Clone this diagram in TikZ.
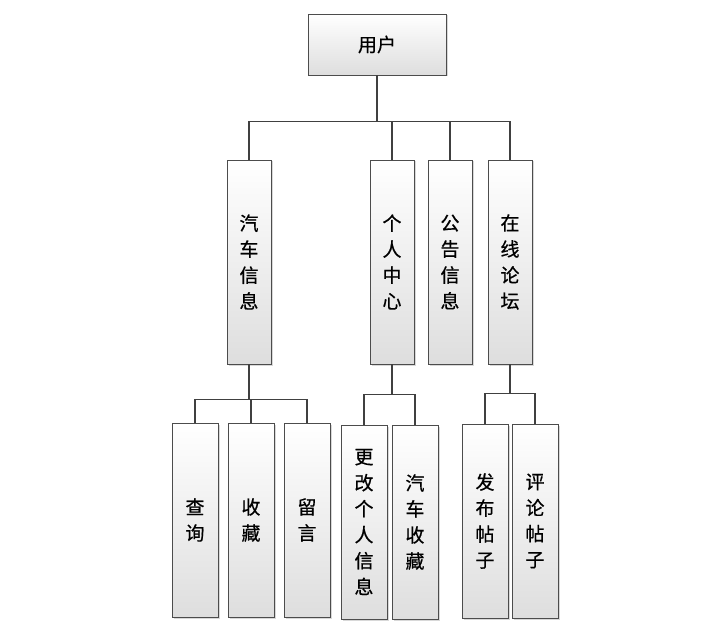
\documentclass[tikz,border=0pt]{standalone}
\usepackage{fontspec}
\newfontfamily\cjk[FakeBold=0.6]{Noto Sans CJK SC}
\usetikzlibrary{positioning,shadows}

\begin{document}
\begin{tikzpicture}[x=1pt, y=-1pt,
  box/.style={draw=black!70, line width=0.9pt,
              top color=white, bottom color=black!13,
              drop shadow={shadow xshift=1.5pt, shadow yshift=-1.5pt,
                           fill=black!30, opacity=0.5},
              align=center, inner sep=0pt,
              font=\cjk\fontsize{19}{26}\selectfont},
  rootbox/.style={box, minimum width=138pt, minimum height=61pt},
  modbox/.style={box, minimum width=44pt, minimum height=204pt},
  leafbox/.style={box, minimum width=46pt, minimum height=194pt},
  conn/.style={draw=black!75, line width=1.5pt}
]
\useasboundingbox (0,0) rectangle (707,639);

%% ── nodes ───────────────────────────────────────────────────────────────
\node[rootbox] (user)   at (377,44.5) {用户};

% modules
\node[modbox]  (car)    at (249,262)  {汽\\车\\信\\息};
\node[modbox]  (self)   at (392,262)  {个\\人\\中\\心};
\node[modbox]  (notice) at (450,262)  {公\\告\\信\\息};
\node[modbox]  (forum)  at (510,262)  {在\\线\\论\\坛};

% functions
\node[leafbox] (query)  at (195,520)  {查\\询};
\node[leafbox] (fav)    at (251,520)  {收\\藏};
\node[leafbox] (msg)    at (307,520)  {留\\言};
\node[leafbox] (edit)   at (364,522)  {更\\改\\个\\人\\信\\息};
\node[leafbox] (carfav) at (415,522)  {汽\\车\\收\\藏};
\node[leafbox] (post)   at (485,521)  {发\\布\\帖\\子};
\node[leafbox] (reply)  at (535,521)  {评\\论\\帖\\子};

%% ── edges ───────────────────────────────────────────────────────────────
\foreach \m in {car,self,notice,forum}
  \draw[conn] (user.south) -- ++(0,46) -| (\m.north);

\foreach \f in {query,fav,msg}
  \draw[conn] (car.south) -- ++(0,35) -| (\f.north);

\foreach \f in {edit,carfav}
  \draw[conn] (self.south) -- ++(0,30) -| (\f.north);

\foreach \f in {post,reply}
  \draw[conn] (forum.south) -- ++(0,29) -| (\f.north);

\end{tikzpicture}
\end{document}
